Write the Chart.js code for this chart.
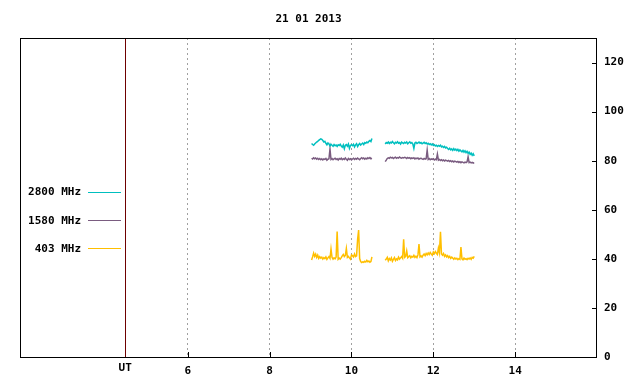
<!DOCTYPE html>
<html><head><meta charset="utf-8">
<script src="https://cdn.jsdelivr.net/npm/chart.js@4/dist/chart.umd.min.js"></script>
<style>html,body{margin:0;padding:0;background:#fff}#wrap{width:640px;height:384px}</style>
</head><body><div id="wrap"><canvas id="c" width="640" height="384"></canvas></div>
<script>
const TITLE = '21 01 2013';
const X_TICKS = [6, 8, 10, 12, 14];
const Y_TICKS = [0, 20, 40, 60, 80, 100, 120];
const UT_POS = 4.47;
const UT_LABEL = 'UT';
const STEP = 0.025;          // hours between samples
const SEG1_START = 9.025;    // first recording segment start (UT hours)
const SEG2_START = 10.825;   // second recording segment start
const GAP_AT = 10.66;

const LABELS = ['2800 MHz', '1580 MHz', '403 MHz'];

const f2800_seg1 = [
 87.0,86.6,86.3,86.8,87.2,87.6,87.9,88.3,88.6,88.9,
 88.7,88.2,87.6,87.9,87.1,86.5,87.2,86.8,86.0,86.7,
 86.3,85.9,86.6,86.1,86.4,85.8,86.5,86.2,86.7,86.0,
 85.5,86.4,84.9,86.3,86.6,85.9,86.8,85.0,86.2,86.5,
 86.1,86.7,85.6,86.4,86.9,85.8,86.5,87.0,86.4,86.8,
 87.2,86.6,87.4,87.1,87.6,87.3,87.9,88.2,87.8,89.0];
const f2800_seg2 = [
 86.8,87.4,87.1,87.6,87.0,87.5,87.2,87.8,87.3,86.9,
 87.5,87.2,87.7,87.1,87.4,86.8,87.6,87.3,87.0,87.5,
 87.2,87.6,86.9,87.3,87.7,87.1,87.4,86.8,85.0,87.2,
 87.5,87.0,87.3,87.6,87.1,87.4,86.9,87.2,87.5,87.0,
 87.3,86.8,87.1,86.6,86.9,86.4,86.8,86.2,86.5,86.0,
 86.3,85.8,86.2,85.9,86.3,85.6,85.9,85.4,85.8,85.2,
 85.5,85.0,84.6,85.1,84.4,84.8,84.2,84.9,84.3,84.7,
 84.1,84.6,83.9,84.4,84.0,83.6,84.2,83.5,84.0,83.3,
 83.8,83.0,83.5,82.6,83.1,82.2,82.8,82.0];

const f1580_seg1 = [
 81.0,80.7,81.2,80.8,81.1,80.6,81.0,80.5,80.9,80.4,
 80.8,80.3,80.7,80.5,80.9,80.2,80.6,80.8,84.8,80.5,
 80.9,80.4,80.7,81.0,80.5,80.8,80.3,80.9,80.6,81.0,
 80.4,80.8,80.5,81.1,80.6,80.2,80.9,80.5,80.8,80.3,
 80.7,81.0,80.5,80.9,80.6,81.1,80.7,80.4,80.9,81.2,
 80.8,81.1,80.6,81.0,80.7,81.2,80.9,81.3,80.8,81.0];
const f1580_seg2 = [
 79.6,80.2,80.9,81.2,81.0,81.4,81.1,81.3,80.9,81.2,
 81.4,81.0,81.3,81.1,81.5,81.2,81.0,81.3,81.1,81.4,
 81.2,80.9,81.3,81.0,81.2,80.8,81.1,80.9,81.2,80.7,
 81.0,80.8,81.1,80.6,80.9,81.0,80.7,80.5,80.9,80.6,
 80.8,84.3,80.5,80.9,80.4,80.7,80.5,80.8,80.3,80.6,
 80.4,82.7,80.2,80.5,80.1,80.4,80.0,80.3,79.9,80.2,
 80.0,79.8,80.1,79.7,80.0,79.6,79.9,79.5,79.8,79.6,
 79.4,79.7,79.3,79.6,79.2,79.5,79.3,79.1,79.4,79.2,
 79.5,81.6,79.2,79.4,79.1,79.3,79.0,79.2];

const f403_seg1 = [
 39.5,40.8,42.3,41.0,41.9,40.6,41.5,40.2,40.9,40.3,
 40.7,39.9,40.5,40.1,40.8,39.8,40.4,40.9,40.2,44.0,
 40.6,39.9,40.4,40.0,40.7,51.1,39.8,40.3,39.9,40.5,
 41.2,41.8,40.9,41.4,44.2,40.6,41.0,40.4,39.9,41.6,
 41.3,40.8,42.0,40.9,41.2,48.0,51.7,40.1,38.9,38.5,
 38.8,38.6,39.0,38.7,39.4,38.8,39.1,38.6,38.9,40.8];
const f403_seg2 = [
 39.4,39.9,40.6,39.2,40.1,39.5,40.4,39.0,39.8,40.5,
 39.3,40.0,39.6,40.7,39.9,40.4,40.9,40.2,48.0,40.6,
 41.0,43.2,40.5,40.9,41.3,40.4,41.0,40.7,41.4,40.6,
 41.1,40.5,41.6,46.0,40.8,41.2,40.7,41.5,42.0,41.3,
 42.2,41.6,42.4,41.8,42.6,42.0,41.5,42.8,42.1,43.0,
 42.3,41.8,44.4,42.5,51.0,42.0,41.5,42.2,41.0,41.6,
 40.8,41.3,40.5,41.0,40.2,40.7,40.3,39.8,40.4,39.9,
 40.2,39.7,40.1,39.8,44.8,40.0,39.6,40.3,39.8,40.1,
 39.7,40.2,39.9,40.4,39.8,40.6,40.3,41.0];

const COLORS = ['#00bfbf', '#7a5c80', '#ffbf00'];
const FONT = {family: "'DejaVu Sans Mono', monospace", size: 11, weight: 'bold'};
const FONT_STR = "bold 11px 'DejaVu Sans Mono', monospace";

function seg(start, vals) {
  return vals.map((v, i) => ({x: +(start + i * STEP).toFixed(3), y: v}));
}
function series(a, b) {
  return seg(SEG1_START, a).concat([{x: GAP_AT, y: null}], seg(SEG2_START, b));
}
const SERIES = [series(f2800_seg1, f2800_seg2), series(f1580_seg1, f1580_seg2), series(f403_seg1, f403_seg2)];

const decor = {
  id: 'decor',
  afterDraw(chart) {
    const {ctx, chartArea: a, scales} = chart;
    ctx.save();
    // UT marker line
    const ux = Math.floor(scales.x.getPixelForValue(UT_POS)) + 0.5;
    ctx.strokeStyle = '#6e0000';
    ctx.lineWidth = 1;
    ctx.beginPath(); ctx.moveTo(ux, a.top); ctx.lineTo(ux, a.bottom); ctx.stroke();
    // frame
    ctx.strokeStyle = '#000';
    ctx.strokeRect(a.left + 0.5, a.top + 0.5, a.right - a.left - 1, a.bottom - a.top);
    // inward tick marks
    ctx.beginPath();
    X_TICKS.forEach(v => {
      const px = Math.round(scales.x.getPixelForValue(v)) + 0.5;
      ctx.moveTo(px, a.bottom); ctx.lineTo(px, a.bottom - 5);
    });
    Y_TICKS.forEach(v => {
      const py = Math.round(scales.y.getPixelForValue(v)) + 0.5;
      ctx.moveTo(a.right, py); ctx.lineTo(a.right - 5, py);
    });
    ctx.stroke();
    // title
    ctx.fillStyle = '#000';
    ctx.font = FONT_STR;
    ctx.textAlign = 'center';
    ctx.textBaseline = 'middle';
    ctx.fillText(TITLE, (a.left + a.right) / 2, 19);
    // legend (inside plot, left)
    ctx.textAlign = 'right';
    LABELS.forEach((lab, k) => {
      const y = 192.5 + k * 28.2;
      ctx.fillStyle = '#000';
      ctx.fillText(lab, 81, y);
      ctx.strokeStyle = COLORS[k];
      ctx.beginPath();
      ctx.moveTo(88, Math.round(y - 1) + 0.5);
      ctx.lineTo(121, Math.round(y - 1) + 0.5);
      ctx.stroke();
    });
    ctx.restore();
  }
};

const datasets = SERIES.map((d, k) => ({
  label: LABELS[k], data: d, borderColor: COLORS[k], borderWidth: 1.5,
  pointRadius: 0, tension: 0, spanGaps: false, fill: false
}));

new Chart(document.getElementById('c'), {
  type: 'line',
  data: {datasets},
  options: {
    responsive: false, animation: false, devicePixelRatio: 1,
    layout: {padding: {top: 38, left: 20, right: 0, bottom: 0}},
    plugins: {legend: {display: false}, title: {display: false}, tooltip: {enabled: false}},
    scales: {
      x: {
        type: 'linear', min: 1.9, max: 16,
        afterBuildTicks: s => { s.ticks = [UT_POS].concat(X_TICKS).map(v => ({value: v})); },
        afterFit: s => { s.height = 27; },
        ticks: {
          autoSkip: false, maxRotation: 0, padding: 8, color: '#000',
          font: c => (c.tick && c.tick.value === UT_POS) ? Object.assign({}, FONT, {lineHeight: 0.6}) : FONT,
          callback: v => v === UT_POS ? UT_LABEL : String(v)
        },
        grid: {
          color: c => (c.tick && c.tick.value === UT_POS) ? 'rgba(0,0,0,0)' : '#a0a0a0',
          lineWidth: 1, drawTicks: false
        },
        border: {display: false, dash: [2, 3]}
      },
      y: {
        type: 'linear', position: 'right', min: 0, max: 130,
        afterBuildTicks: s => { s.ticks = Y_TICKS.map(v => ({value: v})); },
        afterFit: s => { s.width = 43; },
        ticks: {padding: 7, color: '#000', font: FONT},
        grid: {display: false, drawTicks: false},
        border: {display: false}
      }
    }
  },
  plugins: [decor]
});
</script>
</body></html>
